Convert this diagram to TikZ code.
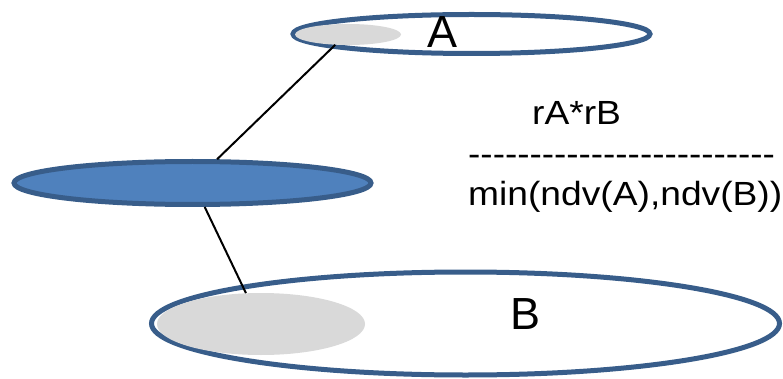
\documentclass[tikz,border=0pt]{standalone}
\usepackage{fontspec}
\usepackage{graphicx}
\usetikzlibrary{shapes.geometric}
\newfontfamily\arial{Liberation Sans}
\definecolor{edgeblue}{HTML}{385D8A}
\definecolor{fillblue}{HTML}{4F81BD}
\definecolor{lightgray}{HTML}{D9D9D9}
\newcommand\hy{-\kern0pt}
\tikzset{
  setring/.style={ellipse, draw=edgeblue, line width=5pt, fill=white, inner sep=0pt},
  subset/.style={ellipse, fill=lightgray, inner sep=0pt},
  joinbox/.style={ellipse, draw=edgeblue, line width=5pt, fill=fillblue, inner sep=0pt},
  link/.style={draw=black, line width=2pt},
  biglabel/.style={anchor=base, inner sep=0pt, font=\arial\fontsize{45}{54}\selectfont},
  formula/.style={anchor=base west, inner sep=0pt, font=\arial\fontsize{33.5}{40}\selectfont}
}
\begin{document}
\begin{tikzpicture}[x=1pt, y=-1pt]
\useasboundingbox (0,0) rectangle (783,379);
% set A
\node[setring, minimum width=357pt, minimum height=39pt] (setA) at (471.5,34) {};
\node[subset, minimum width=106pt, minimum height=21pt] (grayA) at (348,34.5) {};
\node[biglabel] (labA) at (442,48) {A};
% set B
\node[setring, minimum width=628pt, minimum height=103pt] (setB) at (465.5,323.5) {};
\node[subset, minimum width=208pt, minimum height=62pt] (grayB) at (261,324) {};
\node[biglabel] (labB) at (525,329) {B};
% join result
\node[joinbox, minimum width=357pt, minimum height=43pt] (mid) at (192.5,183) {};
% connectors
\draw[link] (grayA.219) -- (mid.44);
\draw[link] (mid.-63) -- (grayB.116);
% formula
\node[formula] (num) at (532,125) {\scalebox{1.11}[1]{rA*rB}};
\node[formula] (bar) at (468,166) {\scalebox{1.1}[1]{\hy\hy\hy\hy\hy\hy\hy\hy\hy\hy\hy\hy\hy\hy\hy\hy\hy\hy\hy\hy\hy\hy\hy\hy\hy}};
\node[formula] (den) at (468,206) {\scalebox{1.11}[1]{min(ndv(A),ndv(B))}};
\end{tikzpicture}
\end{document}
